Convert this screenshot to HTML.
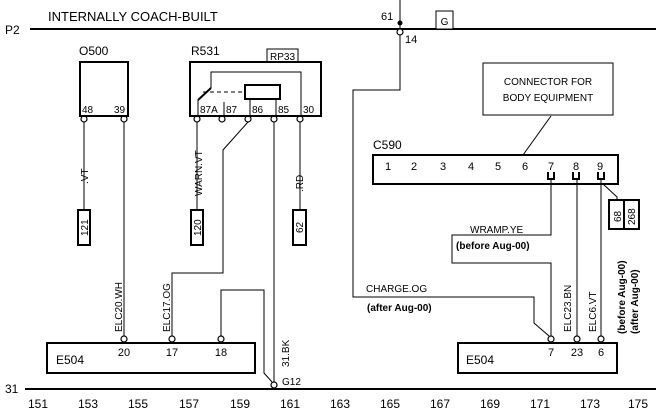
<!DOCTYPE html>
<html><head><meta charset="utf-8"><style>
html,body{margin:0;padding:0;background:#fff;}
svg{display:block;font-family:"Liberation Sans",Arial,sans-serif;}
</style></head><body>
<svg width="656" height="416" viewBox="0 0 656 416" xmlns="http://www.w3.org/2000/svg">
<g font-size="12" fill="#000">
<text x="5" y="34">P2</text>
<text x="48" y="21" font-size="13">INTERNALLY COACH-BUILT</text>
<text x="5" y="393">31</text>
</g>
<line x1="30" y1="29" x2="656" y2="29" stroke="#000" stroke-width="2"/>
<line x1="25" y1="389" x2="656" y2="389" stroke="#000" stroke-width="2"/>
<g font-size="12" text-anchor="middle">
<text x="38" y="408">151</text><text x="88" y="408">153</text><text x="138" y="408">155</text><text x="189" y="408">157</text><text x="240" y="408">159</text><text x="290" y="408">161</text><text x="340" y="408">163</text><text x="390" y="408">165</text><text x="440" y="408">167</text><text x="490" y="408">169</text><text x="540" y="408">171</text><text x="590" y="408">173</text><text x="638" y="408">175</text>
</g>
<line x1="400" y1="0" x2="400" y2="29" stroke="#000"/>
<circle cx="400" cy="23" r="2.5" fill="#000"/>
<text x="381" y="20" font-size="11">61</text>
<text x="405" y="43" font-size="11">14</text>
<rect x="436" y="11" width="17" height="18" fill="#fff" stroke="#000"/>
<text x="444.5" y="25" font-size="10" text-anchor="middle">G</text>
<g fill="none" stroke="#000" stroke-width="1">
<polyline points="400,35 400,90 353,90 353,297 534,297 534,323 549,336"/>
<polyline points="551,180 551,235 452,235 452,263 551,263 551,336"/>
<line x1="577" y1="180" x2="577" y2="336"/>
<line x1="601" y1="180" x2="601" y2="336"/>
<polyline points="603,184 617,197 617,200"/>
<line x1="84" y1="122" x2="84" y2="210"/>
<line x1="124" y1="122" x2="124" y2="336"/>
<line x1="197" y1="122" x2="197" y2="210"/>
<polyline points="248,122 223,150 223,273 172,273 172,336"/>
<line x1="274" y1="122" x2="274" y2="382"/>
<line x1="300" y1="122" x2="300" y2="210"/>
<polyline points="221,336 221,290 264,290 264,373 272,382"/>
<line x1="551" y1="116" x2="523" y2="155"/>
</g>
<g fill="#fff" stroke="#000" stroke-width="1.2">
<circle cx="400" cy="32" r="3"/>
<circle cx="84" cy="119" r="3"/><circle cx="124" cy="119" r="3"/>
<circle cx="197" cy="119" r="3"/><circle cx="222" cy="119" r="3"/><circle cx="248" cy="119" r="3"/><circle cx="274" cy="119" r="3"/><circle cx="300" cy="119" r="3"/>
<circle cx="124" cy="339" r="3"/><circle cx="172" cy="339" r="3"/><circle cx="221" cy="339" r="3"/>
<circle cx="551" cy="339" r="3"/><circle cx="577" cy="339" r="3"/><circle cx="601" cy="339" r="3"/>
<circle cx="274" cy="385" r="3"/>
</g>
<text x="79" y="55" font-size="12">O500</text>
<rect x="80" y="62" width="48" height="54" fill="none" stroke="#000" stroke-width="2"/>
<text x="82" y="113" font-size="10">48</text><text x="114" y="113" font-size="10">39</text>
<text x="191" y="55" font-size="12">R531</text>
<rect x="267" y="49" width="31" height="13" fill="#fff" stroke="#000"/>
<text x="282.5" y="60" font-size="10" text-anchor="middle">RP33</text>
<rect x="190" y="62" width="131" height="54" fill="none" stroke="#000" stroke-width="2"/>
<g fill="none" stroke="#000">
<polyline points="211,88 211,72 301,72 301,116"/>
<line x1="198" y1="100" x2="198" y2="116"/>
<line x1="224" y1="102" x2="224" y2="116"/>
<line x1="250" y1="99" x2="250" y2="116"/>
<line x1="276" y1="99" x2="276" y2="116"/>
<line x1="211" y1="88" x2="198" y2="100" stroke-width="2"/>
<line x1="203" y1="92" x2="245" y2="92" stroke-dasharray="4,3"/>
<rect x="245" y="85" width="35" height="14" stroke-width="2"/>
</g>
<g font-size="10"><text x="200" y="113">87A</text><text x="226" y="113">87</text><text x="252" y="113">86</text><text x="278" y="113">85</text><text x="303" y="113">30</text></g>
<g fill="none" stroke="#000" stroke-width="2">
<rect x="78" y="210" width="12" height="35"/>
<rect x="191" y="210" width="12" height="35"/>
<rect x="293" y="210" width="13" height="35"/>
<rect x="609" y="200" width="30" height="29"/>
</g>
<line x1="624" y1="200" x2="624" y2="229" stroke="#000" stroke-width="2"/>
<g font-size="10">
<text transform="translate(88,236) rotate(-90)">121</text>
<text transform="translate(201,236) rotate(-90)">120</text>
<text transform="translate(303,233) rotate(-90)">62</text>
<text transform="translate(621,222) rotate(-90)">68</text>
<text transform="translate(635,225) rotate(-90)">268</text>
<text transform="translate(88,184) rotate(-90)">.VT</text>
<text transform="translate(202,196) rotate(-90)">WARN.VT</text>
<text transform="translate(303,192) rotate(-90)">.RD</text>
<text transform="translate(122,332) rotate(-90)">ELC20.WH</text>
<text transform="translate(170,332) rotate(-90)">ELC17.OG</text>
<text transform="translate(289,367) rotate(-90)">31.BK</text>
<text transform="translate(571,332) rotate(-90)">ELC23.BN</text>
<text transform="translate(596,332) rotate(-90)">ELC6.VT</text>
<text x="470" y="233">WRAMP.YE</text>
<text x="366" y="292">CHARGE.OG</text>
<text x="282" y="385">G12</text>
</g>
<g font-size="10" font-weight="bold">
<text x="456" y="249">(before Aug-00)</text>
<text x="367" y="311">(after Aug-00)</text>
<text transform="translate(625,334) rotate(-90)">(before Aug-00)</text>
<text transform="translate(638,334) rotate(-90)">(after Aug-00)</text>
</g>
<rect x="47" y="343" width="208" height="30" fill="none" stroke="#000" stroke-width="2"/>
<text x="56" y="364" font-size="12">E504</text>
<g font-size="11" text-anchor="middle"><text x="124" y="356">20</text><text x="172" y="356">17</text><text x="221" y="356">18</text></g>
<rect x="458" y="343" width="159" height="30" fill="none" stroke="#000" stroke-width="2"/>
<text x="466" y="364" font-size="12">E504</text>
<g font-size="11" text-anchor="middle"><text x="551" y="356">7</text><text x="577" y="356">23</text><text x="601" y="356">6</text></g>
<rect x="483" y="63" width="130" height="52" fill="#fff" stroke="#000"/>
<text x="548" y="85" font-size="10" text-anchor="middle">CONNECTOR FOR</text>
<text x="548" y="101" font-size="10" text-anchor="middle">BODY EQUIPMENT</text>
<text x="373" y="149" font-size="12">C590</text>
<rect x="373" y="155" width="245" height="29" fill="none" stroke="#000" stroke-width="2"/>
<g font-size="11" text-anchor="middle"><text x="388" y="170">1</text><text x="414" y="170">2</text><text x="443" y="170">3</text><text x="471" y="170">4</text><text x="498" y="170">5</text><text x="525" y="170">6</text><text x="551" y="170">7</text><text x="576" y="170">8</text><text x="600" y="170">9</text></g>
<g fill="none" stroke="#000" stroke-width="2">
<path d="M548,172 V179 H554 V172"/>
<path d="M573,172 V179 H579 V172"/>
<path d="M598,172 V179 H604 V172"/>
</g>
</svg>
</body></html>
